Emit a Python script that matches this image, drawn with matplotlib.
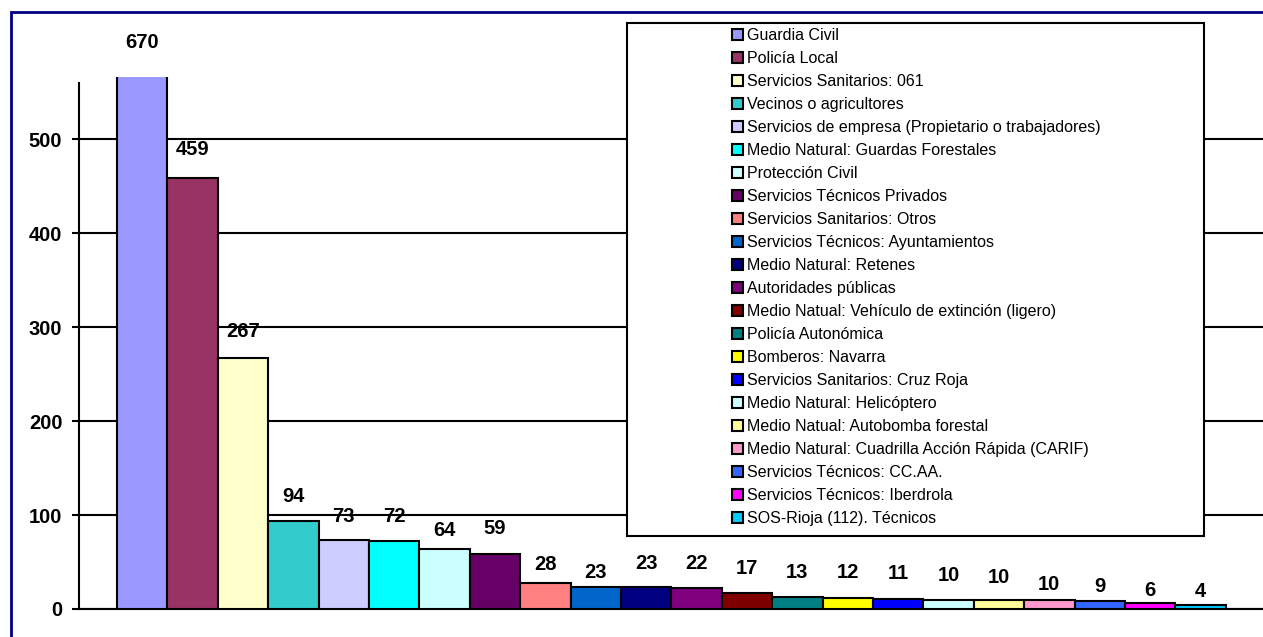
import matplotlib
matplotlib.use("Agg")
import matplotlib.pyplot as plt
from matplotlib.patches import Rectangle
import numpy as np

categories = [
    "Guardia Civil",
    "Policía Local",
    "Servicios Sanitarios: 061",
    "Vecinos o agricultores",
    "Servicios de empresa (Propietario o trabajadores)",
    "Medio Natural: Guardas Forestales",
    "Protección Civil",
    "Servicios Técnicos Privados",
    "Servicios Sanitarios: Otros",
    "Servicios Técnicos: Ayuntamientos",
    "Medio Natural: Retenes",
    "Autoridades públicas",
    "Medio Natual: Vehículo de extinción (ligero)",
    "Policía Autonómica",
    "Bomberos: Navarra",
    "Servicios Sanitarios: Cruz Roja",
    "Medio Natural: Helicóptero",
    "Medio Natual: Autobomba forestal",
    "Medio Natural: Cuadrilla Acción Rápida (CARIF)",
    "Servicios Técnicos: CC.AA.",
    "Servicios Técnicos: Iberdrola",
    "SOS-Rioja (112). Técnicos",
]
values = [670, 459, 267, 94, 73, 72, 64, 59, 28, 23, 23, 22, 17, 13, 12, 11, 10, 10, 10, 9, 6, 4]
colors = ["#9999FF", "#993366", "#FFFFCC", "#33CCCC", "#CCCCFF", "#00FFFF", "#CCFFFF",
          "#660066", "#FF8080", "#0066CC", "#000080", "#800080", "#800000", "#008080",
          "#FFFF00", "#0000FF", "#CCFFFF", "#FFFF99", "#FF99CC", "#3366FF", "#FF00FF",
          "#00CCFF"]
yticks = [0, 100, 200, 300, 400, 500]

# distance (px) from bar top to label centre, as laid out in the original
label_gap = [35, 28, 27, 24, 24, 25, 18, 25, 18, 15, 24, 25, 25, 24, 25, 25, 24, 22,
             15, 14, 13, 14]

plt.rcParams['font.family'] = ['Liberation Sans', 'DejaVu Sans']

W, H = 1263, 637
fig = plt.figure(figsize=(W / 100, H / 100), dpi=100)
ax = fig.add_axes([79 / W, 1 - 609 / H, 1 - 79 / W, (609 - 77) / H])

axis_top = 560
ytop = 566
bars = []
for i, (v, c, lab) in enumerate(zip(values, colors, categories)):
    b = ax.bar(i, v, width=1.0, color=c, edgecolor="black", linewidth=1.5,
               label=lab, zorder=3)
    bars.append(b[0])
    top = min(v, ytop)
    ax.annotate(str(v), (i, top), xytext=(0, label_gap[i] * 0.72),
                textcoords="offset points", ha="center", va="center",
                fontsize=14.5, fontweight="bold", annotation_clip=False, zorder=4)

ax.set_ylim(0, ytop)
ax.set_xlim(-1.254, 22.24)
ax.set_yticks(yticks)
ax.set_yticklabels([str(t) for t in yticks], fontsize=14.5, fontweight="bold")
ax.tick_params(axis="y", direction="out", length=5, width=1.5, pad=7)
ax.set_xticks([])
ax.yaxis.grid(True, color="black", linewidth=1.5, zorder=0)
ax.set_axisbelow(True)
for s in ["top", "right"]:
    ax.spines[s].set_visible(False)
for s in ["left", "bottom"]:
    ax.spines[s].set_linewidth(1.5)
ax.spines["left"].set_bounds(0, axis_top)

# outer chart border (only top and left edges visible)
fig.add_artist(Rectangle((11 / W, -0.1), 1.2, (1 - 12 / H) + 0.1,
                         transform=fig.transFigure, fill=False,
                         edgecolor="#000080", linewidth=2, zorder=0))

# legend box
fig.add_artist(Rectangle((627 / W, 1 - 536 / H), 577 / W, 513 / H,
                         transform=fig.transFigure, facecolor="white",
                         edgecolor="black", linewidth=1.5, zorder=1))
fig.legend(handles=bars, labels=categories, loc="upper left",
           bbox_to_anchor=(732 / W, 1 - 28 / H), bbox_transform=fig.transFigure,
           frameon=False, fontsize=11.5, handlelength=0.7, handleheight=0.7,
           handletextpad=0.25, labelspacing=0.5, borderpad=0, borderaxespad=0)

fig.savefig("out.png", dpi=100)
